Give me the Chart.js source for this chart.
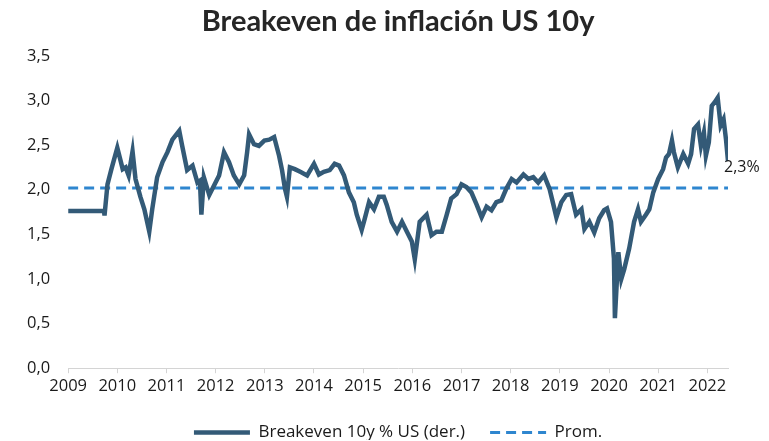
<!DOCTYPE html>
<html>
<head>
<meta charset="utf-8">
<script src="https://cdn.jsdelivr.net/npm/chart.js@4/dist/chart.umd.min.js"></script>
<style>
  html, body { margin: 0; padding: 0; background: #ffffff; }
  #wrap { width: 769px; height: 441px; position: relative; }
</style>
</head>
<body>
<div id="wrap"><canvas id="c" width="769" height="441"></canvas></div>
<script>
// ---- Data ----
const fechas = [
  2009.00, 2009.73, 2009.74, 2009.80, 2009.88, 2010.00, 2010.11, 2010.17, 2010.23, 2010.31,
  2010.37, 2010.47, 2010.55, 2010.65, 2010.71, 2010.81, 2010.92, 2011.02, 2011.12, 2011.26,
  2011.32, 2011.42, 2011.53, 2011.63, 2011.68, 2011.71, 2011.76, 2011.87, 2011.97, 2012.07,
  2012.17, 2012.27, 2012.37, 2012.48, 2012.58, 2012.64, 2012.68, 2012.78, 2012.88, 2012.99,
  2013.09, 2013.19, 2013.29, 2013.35, 2013.41, 2013.45, 2013.51, 2013.61, 2013.72, 2013.86,
  2014.00, 2014.10, 2014.20, 2014.32, 2014.42, 2014.51, 2014.61, 2014.71, 2014.81, 2014.87,
  2014.97, 2015.03, 2015.12, 2015.22, 2015.32, 2015.42, 2015.48, 2015.58, 2015.69, 2015.79,
  2015.89, 2015.99, 2016.05, 2016.15, 2016.29, 2016.39, 2016.49, 2016.60, 2016.70, 2016.79,
  2016.90, 2017.00, 2017.10, 2017.20, 2017.31, 2017.41, 2017.51, 2017.61, 2017.71, 2017.81,
  2017.91, 2018.02, 2018.12, 2018.26, 2018.36, 2018.46, 2018.56, 2018.68, 2018.79, 2018.87,
  2018.93, 2019.03, 2019.13, 2019.23, 2019.33, 2019.44, 2019.50, 2019.60, 2019.70, 2019.80,
  2019.90, 2019.96, 2020.04, 2020.10, 2020.12, 2020.19, 2020.25, 2020.31, 2020.41, 2020.51,
  2020.59, 2020.65, 2020.75, 2020.82, 2020.90, 2021.00, 2021.10, 2021.16, 2021.22, 2021.28,
  2021.32, 2021.40, 2021.51, 2021.61, 2021.67, 2021.73, 2021.81, 2021.87, 2021.93, 2021.97,
  2022.03, 2022.09, 2022.15, 2022.21, 2022.27, 2022.33, 2022.38, 2022.42
];
const breakeven = [
  1.76, 1.76, 1.71, 2.06, 2.23, 2.47, 2.23, 2.25, 2.16, 2.43,
  2.12, 1.92, 1.78, 1.53, 1.78, 2.14, 2.31, 2.42, 2.56, 2.66,
  2.49, 2.22, 2.27, 2.08, 2.10, 1.72, 2.14, 1.94, 2.05, 2.16,
  2.42, 2.31, 2.16, 2.06, 2.16, 2.42, 2.62, 2.51, 2.49, 2.55,
  2.56, 2.59, 2.38, 2.22, 2.01, 1.92, 2.25, 2.23, 2.20, 2.16,
  2.29, 2.17, 2.20, 2.22, 2.29, 2.27, 2.16, 1.97, 1.86, 1.72,
  1.55, 1.67, 1.86, 1.78, 1.92, 1.92, 1.83, 1.64, 1.53, 1.64,
  1.53, 1.42, 1.22, 1.64, 1.72, 1.49, 1.53, 1.53, 1.72, 1.90,
  1.95, 2.06, 2.03, 1.97, 1.83, 1.69, 1.81, 1.77, 1.86, 1.88,
  2.01, 2.12, 2.08, 2.17, 2.12, 2.14, 2.08, 2.16, 2.01, 1.83,
  1.69, 1.86, 1.94, 1.95, 1.72, 1.78, 1.56, 1.64, 1.52, 1.68,
  1.77, 1.79, 1.64, 1.23, 0.56, 1.30, 1.00, 1.11, 1.34, 1.64,
  1.78, 1.64, 1.72, 1.78, 1.97, 2.12, 2.23, 2.36, 2.40, 2.55,
  2.42, 2.25, 2.40, 2.29, 2.40, 2.68, 2.73, 2.49, 2.64, 2.38,
  2.53, 2.94, 2.98, 3.03, 2.72, 2.79, 2.56, 2.32
];
const promedio = 2.02;
const anios = [2009, 2010, 2011, 2012, 2013, 2014, 2015, 2016, 2017, 2018, 2019, 2020, 2021, 2022];
const etiquetaFinal = '2,3%';
const titulo = 'Breakeven de inflación US 10y';
const serieNombre = 'Breakeven 10y % US (der.)';
const promNombre = 'Prom.';

// ---- Build datasets ----
const serie = fechas.map((f, i) => ({ x: f, y: breakeven[i] }));
const promLinea = [
  { x: fechas[0], y: promedio },
  { x: fechas[fechas.length - 1], y: promedio }
];

const BASE_FONT = "'Open Sans', 'DejaVu Sans', sans-serif";

const endLabel = {
  id: 'endLabel',
  afterDatasetsDraw(chart) {
    const meta = chart.getDatasetMeta(0);
    const pt = meta.data[meta.data.length - 1];
    if (!pt) return;
    const ctx = chart.ctx;
    ctx.save();
    ctx.font = "16px " + BASE_FONT;
    ctx.fillStyle = '#1a1a1a';
    ctx.textAlign = 'left';
    ctx.textBaseline = 'middle';
    ctx.fillText(etiquetaFinal, pt.x - 4, pt.y + 6);
    ctx.restore();
  }
};

new Chart(document.getElementById('c'), {
  type: 'line',
  data: {
    datasets: [
      {
        label: serieNombre,
        data: serie,
        borderColor: '#335a77',
        backgroundColor: '#335a77',
        borderWidth: 4.5,
        pointRadius: 0,
        tension: 0,
        fill: false,
        order: 1
      },
      {
        label: promNombre,
        data: promLinea,
        borderColor: '#2e86cf',
        backgroundColor: '#2e86cf',
        borderWidth: 3,
        borderDash: [10, 6],
        pointRadius: 0,
        fill: false,
        order: 2
      }
    ]
  },
  options: {
    responsive: false,
    animation: false,
    devicePixelRatio: 1,
    layout: { padding: { left: 9, right: 41, top: 4, bottom: 1 } },
    plugins: {
      title: {
        display: true,
        text: titulo,
        fullSize: false,
        color: '#262626',
        font: { family: "Lato, 'Open Sans', sans-serif", size: 29, weight: 'bold' },
        padding: { top: 0, bottom: 17 }
      },
      legend: {
        display: true,
        position: 'bottom',
        fullSize: false,
        maxHeight: 41,
        labels: {
          color: '#1a1a1a',
          font: { family: BASE_FONT, size: 17 },
          usePointStyle: true,
          pointStyle: 'line',
          pointStyleWidth: 56,
          boxHeight: 17,
          padding: 25,
          generateLabels(chart) {
            const items = Chart.defaults.plugins.legend.labels.generateLabels(chart);
            return items.map(item => {
              const ds = chart.data.datasets[item.datasetIndex];
              item.lineDash = ds.borderDash || [];
              item.lineWidth = ds.borderWidth;
              item.strokeStyle = ds.borderColor;
              item.pointStyle = 'line';
              return item;
            });
          }
        }
      },
      tooltip: { enabled: false }
    },
    scales: {
      x: {
        type: 'linear',
        min: anios[0],
        max: fechas[fechas.length - 1],
        grid: {
          display: true,
          drawOnChartArea: false,
          drawTicks: true,
          tickLength: 5,
          color: '#d4d4d4'
        },
        border: { display: true, color: '#d4d4d4', width: 1 },
        afterBuildTicks(scale) {
          scale.ticks = anios.map(v => ({ value: v }));
        },
        ticks: {
          color: '#1a1a1a',
          font: { family: BASE_FONT, size: 16.5 },
          padding: 3,
          maxRotation: 0,
          autoSkip: false,
          callback: v => String(v)
        }
      },
      y: {
        min: 0,
        max: 3.5,
        grid: { display: false, drawTicks: false },
        border: { display: false },
        ticks: {
          stepSize: 0.5,
          color: '#1a1a1a',
          font: { family: BASE_FONT, size: 16.5 },
          padding: 18,
          callback: v => Number(v).toFixed(1).replace('.', ',')
        }
      }
    }
  },
  plugins: [endLabel]
});
</script>
</body>
</html>
